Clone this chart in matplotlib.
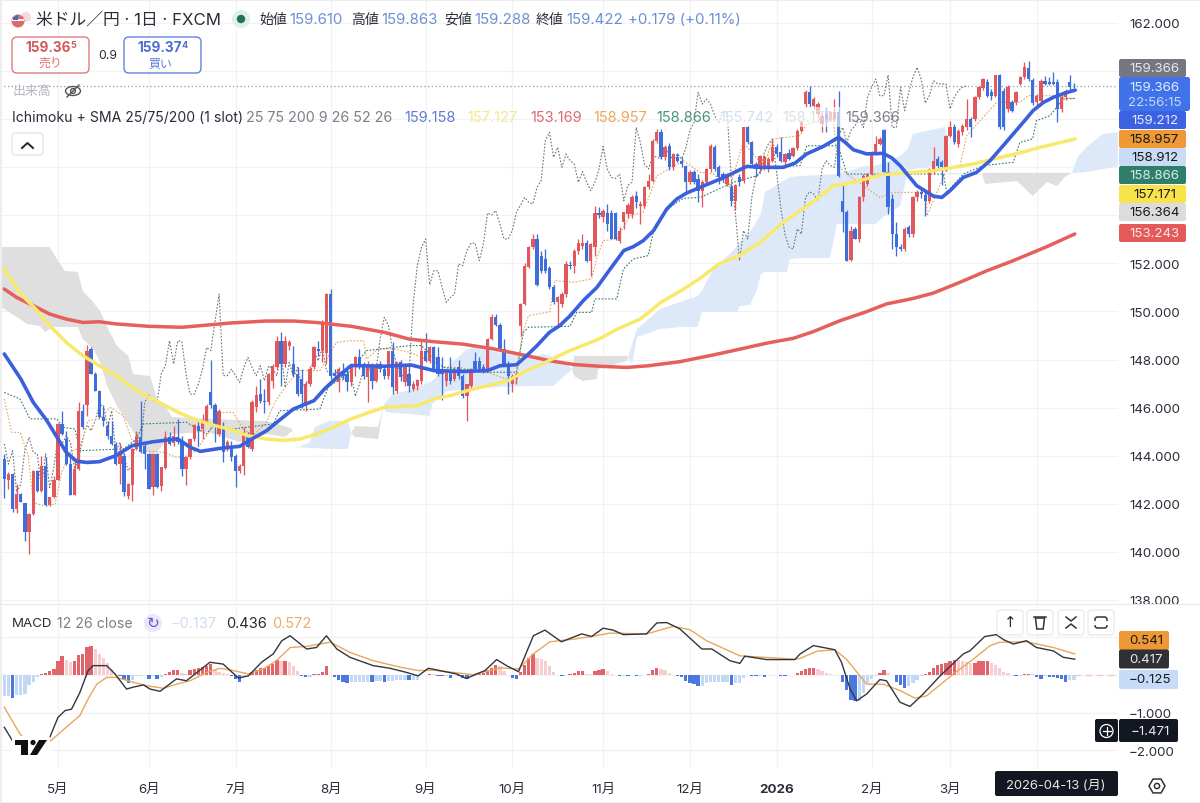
import matplotlib
matplotlib.use("Agg")
import matplotlib.pyplot as plt
from matplotlib.patches import Rectangle, FancyBboxPatch, Circle, Ellipse, Polygon, RegularPolygon

plt.rcParams['font.family'] = ['Inter', 'Noto Sans CJK JP', 'DejaVu Sans']

# ---------- daily candles ----------
opens = [143.86,143.0,143.24,141.78,142.41,142.03,140.84,141.58,143.35,142.55,
143.58,141.95,142.3,143.0,145.32,144.69,143.65,142.37,143.45,145.87,
146.12,148.44,147.4,146.7,145.59,145.25,144.83,144.49,143.65,144.0,
142.34,142.8,144.28,144.76,144.42,144.07,142.68,144.07,142.75,143.48,
144.76,144.52,144.76,144.56,143.45,143.93,144.69,145.25,145.1,145.4,
146.63,146.12,144.9,145.18,144.35,144.28,144.0,143.38,143.58,144.83,
144.28,146.01,146.56,146.29,146.22,147.12,147.67,148.78,147.81,148.57,
147.81,147.4,147.19,146.15,146.98,147.67,148.44,148.37,148.27,150.72,
147.45,147.05,147.53,147.4,
147.05,147.67,148.09,147.74,147.26,147.74,147.12,147.81,147.6,147.33,
148.37,146.7,147.88,147.05,147.4,146.77,146.91,147.12,148.34,147.95,
148.5,148.09,147.54,147.12,147.54,147.19,147.67,147.33,146.47,146.91,
147.95,147.95,147.67,147.6,148.85,149.75,149.43,148.44,147.81,146.98,
147.19,149.41,150.31,151.83,152.66,153.01,152.32,152.18,151.8,151.0,
150.38,150.31,150.72,151.94,151.9,152.53,152.73,152.84,152.11,152.66,
154.09,153.91,154.09,154.09,154.08,152.94,153.7,154.05,154.05,154.78,
154.37,154.37,155.16,155.44,157.1,157.45,156.41,156.89,155.99,156.41,
156.27,156.06,155.37,155.81,155.51,
155.02,155.37,155.92,156.82,155.99,155.71,155.3,155.19,154.6,155.57,
155.44,157.65,157.03,156.13,155.92,155.99,155.92,156.27,156.82,156.64,
156.2,156.6,156.47,156.78,157.52,158.62,159.11,158.55,158.21,157.79,
158.35,158.0,158.0,158.28,154.6,154.12,152.14,153.43,153.01,154.74,
155.3,155.71,156.6,156.96,157.56,155.8,154.67,153.22,152.67,152.6,
153.49,153.22,154.74,154.95,154.84,154.6,155.78,156.34,156.2,155.92,
157.31,157.65,156.96,157.45,157.65,158.0,158.0,158.9,159.27,159.53,
159.11,158.97,159.83,159.18,158.42,158.69,158.69,159.46,159.73,160.11,
159.63,158.69,158.76,159.59,159.55,159.53,159.53,158.42,158.9,159.55,159.39]
highs = [144.07,143.31,143.3,142.82,142.45,142.05,141.6,143.42,143.4,144.0,
143.93,142.3,143.17,145.35,145.87,145.04,144.07,143.86,146.22,146.15,
148.6,148.5,147.5,146.75,146.08,145.46,145.46,144.55,144.49,144.1,
142.85,144.3,145.04,146.26,144.6,144.1,144.1,144.1,143.55,145.04,
145.0,145.25,145.52,144.8,144.0,144.75,145.3,145.46,145.73,146.15,
147.99,146.2,145.95,145.4,144.65,144.62,144.05,143.65,145.18,145.0,
146.3,146.91,147.19,146.77,147.45,147.8,148.99,149.13,148.99,148.8,
148.57,147.7,147.6,147.1,147.75,148.57,148.78,149.65,150.75,150.92,
147.6,147.7,147.85,147.7,
147.8,148.15,148.44,147.9,147.95,147.85,147.85,147.95,147.7,148.36,
148.74,147.9,148.0,147.75,147.8,147.1,147.2,148.85,149.1,148.55,
148.57,148.5,148.09,147.6,148.09,147.7,148.0,147.4,147.0,147.65,
148.3,148.1,147.8,148.9,149.9,149.9,149.5,148.85,147.95,147.4,
147.47,150.35,152.0,152.7,153.22,153.22,152.5,152.59,151.9,151.1,
150.65,150.8,152.11,152.1,152.6,153.0,153.22,152.95,152.85,154.4,
154.33,154.25,154.47,154.2,154.15,153.5,154.15,154.5,154.85,155.02,
154.6,155.2,155.71,157.15,157.58,157.6,156.9,157.0,156.6,156.6,
156.4,156.1,155.9,155.9,155.7,
155.45,155.95,156.96,156.9,156.1,155.8,155.75,155.3,155.3,155.7,
157.7,157.75,157.1,156.2,156.5,156.5,156.4,157.17,156.96,157.24,
156.6,156.75,156.85,157.6,157.9,159.2,159.39,158.9,158.7,158.2,
158.5,158.35,158.83,159.18,155.3,154.2,153.56,153.5,154.8,155.7,
155.75,156.65,157.31,157.25,157.6,156.2,154.9,153.7,152.8,153.5,
153.6,154.8,155.05,155.1,155.0,155.95,156.82,156.45,156.3,157.35,
157.93,157.8,157.6,157.8,158.83,158.1,158.95,159.38,159.7,159.65,
159.25,159.85,159.88,159.3,159.4,158.8,159.15,159.8,160.36,160.43,
159.7,159.05,159.65,159.8,159.75,159.95,159.65,159.0,159.25,159.83,159.5]
lows = [142.23,142.62,141.64,141.62,142.08,140.47,139.91,141.55,142.5,142.5,
141.9,141.9,142.25,143.0,144.85,143.6,142.35,142.35,143.4,145.1,
145.66,147.38,146.68,145.55,145.25,144.69,144.45,143.6,142.82,142.34,
142.2,142.13,144.25,144.1,143.45,142.6,142.37,142.65,142.55,143.45,
144.45,144.4,144.5,143.17,142.78,143.85,144.6,144.42,144.69,145.3,
146.0,144.56,144.8,143.75,144.2,143.8,142.68,143.3,143.2,144.3,
144.2,145.8,146.2,145.76,146.1,146.8,147.6,146.91,147.7,148.4,
147.3,146.5,146.0,145.87,146.9,147.6,148.16,147.9,147.8,147.2,
147.1,146.63,147.2,146.7,
146.9,147.3,147.6,147.2,146.22,146.77,147.05,147.5,147.2,147.2,
146.57,146.6,147.1,146.9,146.66,146.7,146.75,147.0,147.9,147.85,
147.5,147.3,146.32,146.9,147.0,147.1,147.2,146.4,145.46,146.8,
147.55,147.5,147.45,147.5,148.8,149.4,148.4,147.75,146.57,146.64,
146.98,148.99,150.25,151.8,152.6,151.05,151.6,151.6,150.95,150.3,
149.41,150.2,150.6,151.75,151.6,152.4,152.6,152.05,151.49,152.3,
153.9,153.7,153.36,153.0,152.95,152.85,153.43,153.9,153.9,154.3,
153.63,154.3,155.1,155.4,157.0,156.35,156.3,155.9,155.9,156.2,
156.0,155.02,155.3,155.3,154.53,
154.33,155.3,155.8,155.85,155.3,155.4,155.2,154.4,154.2,155.2,
155.35,156.95,156.05,155.57,155.8,155.9,155.8,156.2,156.4,156.2,
156.1,156.3,156.4,156.7,157.45,158.5,158.5,158.4,158.1,157.45,
157.45,157.9,157.9,155.6,153.29,152.08,152.1,153.0,152.9,154.6,
155.2,155.6,156.5,156.9,155.7,154.05,152.6,152.32,152.5,152.5,
153.1,153.1,154.6,154.7,153.98,154.5,155.7,155.95,155.25,155.85,
157.25,156.95,156.82,157.35,157.55,157.24,157.9,158.85,159.2,158.9,
158.8,158.9,157.6,157.55,158.3,158.3,158.6,159.4,159.65,159.6,
158.6,158.6,158.7,159.4,159.4,159.4,157.86,158.3,158.8,159.2,159.3]
closes = [143.03,143.24,141.78,142.41,142.09,140.84,141.58,143.38,142.55,143.58,
141.95,142.3,143.0,145.32,144.9,143.65,142.37,143.45,145.87,145.18,
148.37,147.4,146.7,145.59,145.46,144.83,144.49,143.65,144.21,142.48,
142.82,144.28,144.76,144.14,144.07,142.62,144.07,142.68,143.52,144.76,
144.49,144.83,144.56,143.45,143.93,144.69,145.28,145.04,145.46,146.08,
146.11,145.18,145.87,144.14,144.56,143.93,143.38,143.58,144.97,144.35,
146.22,146.52,146.29,146.22,147.4,147.74,148.78,147.81,148.78,148.74,
147.4,146.56,146.56,146.98,147.6,148.5,148.37,149.54,150.72,147.33,
147.33,147.6,147.33,147.05,
147.67,148.09,147.67,147.33,147.74,147.12,147.74,147.6,147.33,148.34,
146.84,147.88,147.26,147.67,146.91,146.98,147.16,148.34,147.95,148.5,
147.54,147.4,147.4,147.54,147.12,147.6,147.33,146.47,146.98,147.6,
147.6,147.6,147.54,148.85,149.75,149.43,148.44,147.81,147.33,147.33,
147.4,150.31,151.9,152.66,153.01,151.11,151.69,151.69,151.0,150.38,
150.58,150.72,151.97,151.9,152.53,152.84,152.84,152.11,152.8,154.09,
154.01,154.19,153.63,153.01,153.01,153.36,154.12,154.42,154.74,154.53,
154.47,155.16,155.44,157.1,157.45,156.41,156.82,155.99,156.54,156.27,
156.13,155.37,155.81,155.37,155.02,
155.37,155.92,156.86,155.92,155.57,155.53,155.71,154.6,155.25,155.37,
157.65,157.03,156.13,155.92,156.47,156.41,156.34,156.82,156.55,156.27,
156.55,156.34,156.78,157.52,157.86,159.11,158.62,158.83,158.62,158.14,
157.86,158.28,158.31,155.64,154.12,152.11,153.36,153.01,154.74,155.64,
155.71,156.6,156.96,157.17,155.78,154.33,153.22,152.67,152.6,153.43,
153.22,154.74,154.98,154.88,154.6,155.92,156.27,156.06,155.99,157.31,
157.65,157.03,157.52,157.72,158.0,157.65,158.9,159.32,159.66,158.97,
158.97,159.83,157.65,157.65,159.32,158.35,159.11,159.73,160.15,159.66,
158.66,158.97,159.59,159.46,159.46,159.46,158.42,158.9,159.18,159.32,159.37]
last_price = 159.366

# ---------- moving averages (bar, value) ----------
sma25_bar = [0,4,7,10.3,13,15,17.5,20,23,27,31,36,42,45,47.5,52,57,60,63.5,67,70,75,77.5,81,84,92,98.5,104,111,117,120,124,126.5,129,132,134.5,137,140.2,143.5,146.7,150,152.3,154.7,157.2,160.4,162.8,165.2,168.5,174,179.8,183,188.6,191.5,194.3,198.3,202,203.6,205.6,208.8,212.8,214.9,216.9,220.9,225,227,229,232.2,235.4,238.7,241.5,244.3,246.7,249.1,251.6,254,256.8,259.3]
sma25_val = [148.23,147.19,146.22,145.46,144.7,144.14,143.77,143.72,143.75,144.0,144.42,144.58,144.7,144.35,144.18,144.3,144.39,144.7,145.04,145.53,145.94,146.29,146.77,147.33,147.75,147.72,147.77,147.54,147.5,147.54,147.74,147.78,148.16,148.58,149.13,149.41,149.82,150.45,151.0,151.76,152.53,152.69,152.94,153.36,154.26,154.67,154.92,155.16,155.55,156.03,155.99,155.99,156.17,156.55,156.86,157.24,157.03,156.72,156.55,156.57,156.38,156.06,155.23,154.79,154.74,155.02,155.57,155.78,156.27,156.82,157.38,157.86,158.35,158.69,158.9,159.08,159.2]
sma75_bar = [0,4,8,11,15,19,23,27,31,35,39,43,47,51,55,59,63.5,67.5,71.5,75.5,79.6,84,88,92,100,104,108,112,116,122,126.5,131,136,140,144,148.5,154,159,164.5,168.5,173,178,183,188.6,192.7,196.7,200.7,204,208,212.8,218.5,225,229.8,234.6,239.5,245,250.8,259.3]
sma75_val = [151.76,150.72,150.03,149.41,148.71,148.16,147.74,147.33,146.84,146.43,146.08,145.73,145.46,145.25,145.08,144.83,144.69,144.64,144.69,144.9,145.18,145.53,145.78,146.01,146.08,146.36,146.5,146.7,146.87,147.12,147.54,147.88,148.3,148.58,148.85,149.27,149.68,150.38,150.93,151.38,151.97,152.32,152.87,153.7,154.19,154.67,155.23,155.3,155.48,155.69,155.76,155.85,155.99,156.13,156.34,156.55,156.82,157.17]
sma200_bar = [0,3,7,11,15,19,23,27,31,35,43,49,55,63.5,70,75.5,84,92,98,104,111,118.5,126.5,132,138,144,150.7,156,163.6,171.7,178.1,184.6,191,195.9,202.3,208.8,213.6,220.1,224.9,231.4,237.9,244.3,252.4,259.2]
sma200_val = [150.93,150.58,150.24,149.89,149.68,149.54,149.57,149.48,149.43,149.38,149.34,149.43,149.52,149.6,149.6,149.54,149.38,149.13,148.85,148.74,148.64,148.44,148.16,147.95,147.79,147.72,147.67,147.74,147.91,148.19,148.43,148.68,148.88,149.16,149.61,149.99,150.31,150.54,150.76,151.21,151.69,152.11,152.69,153.22]

# ---------- ichimoku ----------
tenkan_bar = [0,1.8,3.8,5.8,7,9.4,12.3,13.9,15.9,18.3,20.3,23.1,25.6,28.8,30.8,33.6,38.5,41.7,44.9,47.3,50.6,52.6,55.4,57.8,60.2,63.5,65.5,68.3,71.1,76.4,77.6,80.4,83.6,87,87.7,90.6,94.2,98.2,107.1,110.3,116.8,124,125.3,126.9,132.1,133.3,137.8,142.2,143.4,145,148.3,151.5,154.7,158,164.4,168.5,171.7,175.7,178.9,183.8,186.2,192.7,194.3,200.7,201.9,204,212,215.3,223.3,223.4,228.2,231.4,233,237,240.3,245.9,247.9,254,259.2]
tenkan_val = [146.36,144.97,144.97,144.0,142.06,141.92,141.99,143.31,144.14,144.35,145.46,145.53,146.01,145.66,144.69,144.21,144.14,143.93,144.0,144.42,145.25,145.8,145.8,145.11,144.83,145.39,146.22,146.91,147.54,147.54,147.88,148.71,148.78,148.78,148.02,148.44,148.44,148.3,147.67,147.67,147.47,147.05,148.99,149.82,149.99,151.28,151.21,151.35,152.18,152.94,153.01,153.98,154.12,155.64,156.27,155.78,155.71,155.16,157.03,156.06,157.17,157.31,157.79,158.0,156.06,155.71,154.74,154.95,154.95,153.98,155.92,156.06,157.31,158.07,158.69,158.69,158.97,158.97,158.83]
kijun_bar = [0,3.8,6.2,12.7,14.3,17.1,18.3,28.8,32,33.6,44.1,49,50.6,55.4,65.1,66.7,76.4,78.4,83.6,87.7,98.2,101,106.3,116.8,124,125.7,126.9,137,138.6,142.2,143,148.3,149.9,152.3,155.9,157.5,161.2,164.4,168.5,176.5,182.2,183.8,192.7,194.3,201.9,204,227.4,228.2,232.2,237,244.3,245.9,249,249.9,253.2,256.4,259.2]
kijun_val = [146.63,146.36,145.53,145.53,145.18,145.11,144.21,144.28,144.69,145.32,145.39,144.9,145.25,145.11,145.32,145.87,145.94,146.84,147.47,148.37,148.58,148.58,147.67,147.47,147.47,149.13,149.34,149.38,149.96,149.96,150.52,150.52,151.76,152.18,152.32,153.56,154.33,154.7,154.74,155.37,155.64,155.99,156.06,156.89,156.89,155.71,155.71,154.95,155.71,156.06,156.2,157.03,157.17,157.93,158.14,158.83,158.86]
kumo_bar = [-2,3.8,5.5,8.6,9.9,11,12.3,14.7,17.8,19,21.5,23.2,24.9,27.3,30,31.2,35.3,37,39.4,40.6,49.1,57,63.6,67.9,69.7,70.9,74,75.2,78.4,83.2,84,84.9,90.5,91.7,92.4,94.1,98.2,103,103.6,107.2,111.5,113.5,119.3,127.8,130.4,132.9,137,137.5,138,140.1,143.5,143.8,150.8,152,153.2,158.8,163.6,167.9,168.9,171.6,176.4,177.4,178.1,180.6,182.3,183.2,184.2,188.6,189.5,190.2,192.7,199.9,201.6,208.6,210.8,213.7,216.9,218.8,220,227.8,228.5,236.2,236.7,237.5,245.2,249,252.5,254.9,256.8,258.5,260,262.4,266,270.1]
senkou_a = [150.31,149.68,149.48,149.39,149.14,149.27,149.35,149.35,149.35,148.85,148.44,147.9,146.9,146.07,145.32,144.99,144.07,144.15,144.69,144.9,144.99,144.57,144.9,144.78,145.03,144.32,144.57,145.19,145.44,145.44,144.94,144.78,144.69,146.03,146.23,146.57,146.73,147.06,147.11,147.69,148.35,148.52,148.31,148.1,148.23,148.1,147.69,147.6,147.31,147.11,147.19,147.6,147.94,148.64,149.27,150.1,150.39,150.64,150.85,151.76,152.51,152.72,152.89,153.3,153.76,154.05,154.96,155.42,155.5,155.59,155.63,155.69,155.71,156.05,156.05,156.21,156.46,156.75,157.38,157.67,155.76,155.71,155.74,155.3,155.42,154.8,155.38,155.21,155.59,155.76,156.46,156.88,157.38,157.46]
senkou_b = [152.68,152.68,152.68,152.68,152.68,152.68,152.3,151.68,151.64,150.85,150.39,150.02,149.35,148.56,148.15,147.4,147.31,146.36,145.94,145.61,145.53,145.48,145.44,145.23,145.11,144.36,144.32,144.32,144.28,144.28,144.94,145.23,145.19,146.03,145.82,145.78,145.73,145.65,146.15,146.69,146.73,146.77,146.86,146.9,146.9,146.9,147.52,147.6,148.15,148.15,148.15,148.15,148.15,147.81,148.94,149.27,149.35,149.35,149.98,149.98,149.98,149.98,150.22,150.27,150.93,151.55,151.64,151.64,151.64,152.18,152.22,152.22,153.63,153.63,153.63,154.05,154.38,155.84,155.92,156.05,155.71,155.67,155.74,155.76,155.76,155.76,155.76,155.76,155.76,155.76,155.76,155.8,155.92,156.05]

# ---------- MACD ----------
hist = [-.57,-.57,-.62,-.55,-.53,-.51,-.26,-.19,-.07,.03,.04,.09,.16,.37,.485,.40,.335,.35,.51,.55,
.73,.77,.69,.555,.44,.31,.16,.03,-.04,-.13,-.22,-.13,-.04,-.03,-.02,-.115,-.04,-.115,-.07,.03,
.07,.12,.12,.035,.03,.115,.15,.19,.2,.24,.29,.13,.07,.04,.03,-.04,-.115,-.18,-.07,-.03,
.07,.115,.18,.19,.23,.29,.40,.37,.37,.335,.22,.09,-.03,-.07,-.05,.01,.03,.07,.22,-.02,
-.07,-.13,-.18,-.22,-.18,-.18,-.18,-.18,-.18,-.19,-.16,-.16,-.18,-.16,
-.16,-.13,-.13,-.13,-.15,-.15,-.13,-.02,0,.03,.01,-.03,-.04,-.04,-.09,-.02,-.04,-.09,-.11,-.03,
.02,.03,.04,.13,.19,.25,.22,.09,-.02,-.09,-.115,.07,.26,.44,.55,.44,.42,.35,.22,.07,
0,-.03,-.01,.01,.035,.09,.11,.02,.01,.11,.12,.15,.11,.03,-.02,-.04,-.035,-.04,-.02,-.035,
-.035,-.01,.02,.115,.19,.16,.12,.04,-.01,-.03,-.07,-.16,-.22,-.25,-.31,-.31,-.22,-.19,-.19,-.19,
-.19,-.19,-.28,-.22,-.22,-.09,-.02,-.03,-.04,-.03,-.06,-.02,-.01,-.02,-.03,-.04,-.01,-.01,.04,
.09,.14,.18,.18,.16,.11,.04,.02,0,0,-.18,-.40,-.66,-.705,-.69,-.485,-.22,-.11,-.04,.04,
.12,.04,-.02,-.18,-.28,-.35,-.31,-.22,-.13,-.03,.03,.07,.19,.26,.29,.31,.35,.39,.38,.35,
.335,.31,.31,.35,.36,.36,.31,.26,.19,.07,.04,-.02,-.035,-.03,.01,.03,.01,-.07,-.115,-.04,
-.06,-.07,-.09,-.12,-.18,-.14,-.14]
macd_bar = [0,2,11,13,14.7,16.3,18.3,20.3,21.5,24.8,26.8,29.6,31.2,33.7,35.3,37.7,41.7,44.1,49.8,53,56.7,59.1,62.3,65.1,67.2,69.2,73.2,75.6,78,80.5,83.7,89.3,93.4,97.4,100.2,102.7,109.5,111.9,114.4,116.4,119.2,121.6,124.5,128.1,130.9,134.9,139.8,142.2,145,147.4,149.9,155.5,158,160.4,163.6,168.9,171.3,175.7,178.1,179.3,184.6,191.4,192.7,195.9,201.1,202.7,204.8,206.4,208.8,212,213.6,216.9,219.3,222.5,226.6,232.2,233.8,237.4,240.2,241.9,244.3,247.5,249.9,254,256.4,259.2]
macd_val = [-1.39,-1.75,-1.66,-1.13,-.95,-.91,-.47,.11,.24,.24,.02,-.38,-.33,-.27,-.38,-.44,-.11,-.16,.33,.28,-.09,-.03,.33,.55,.90,1.03,.68,.72,1.03,.68,.46,.24,.17,.06,-.03,.17,.02,-.10,.02,.11,.40,.24,.08,1.03,1.18,.87,1.08,1.01,1.23,1.18,1.06,1.08,1.37,1.38,1.21,.68,.68,.37,.30,.49,.40,.40,.55,.77,.66,.33,-.38,-.69,-.51,-.13,-.16,-.73,-.84,-.51,-.03,.55,.63,1.01,1.06,.93,.81,.90,.72,.63,.46,.41]
signal_bar = [0,3.8,7,11,15,18.3,20.3,22.4,24.8,27.2,31.2,34.5,38.5,41.7,45,49,52.2,55.4,59.1,62.7,65.9,69.2,73.2,78.9,83.7,89.3,95.8,100.2,103.9,110.3,113.5,120,124.5,128.1,132.1,137.8,142.2,146.6,155.5,162,166,170,178.1,191.4,192.7,196.7,201.1,203.9,208.8,212.8,216.9,220.5,223.3,229.8,234.6,238.7,241.1,247.5,254,259.2]
signal_val = [-.86,-1.57,-1.92,-1.77,-1.39,-1.08,-.64,-.25,-.07,-.07,-.2,-.29,-.36,-.25,-.16,.06,.17,.11,.02,.15,.37,.72,.75,.86,.59,.37,.2,.11,.12,.04,0,.18,.15,.55,.87,.94,1.01,1.10,1.08,1.28,1.19,.90,.5,.41,.43,.62,.66,.41,-.25,-.25,-.42,-.62,-.56,.02,.41,.77,.86,.87,.72,.55]

# ---------- axis labels ----------
price_ticks = [138,140,142,144,146,148,150,152,154,156,158,160,162]
price_tick_labels = ['138.000','140.000','142.000','144.000','146.000','148.000','150.000','152.000','','','','','162.000']
macd_ticks = [1,0,-1,-2]
macd_tick_labels = ['','','\u22121.000','\u22122.000']
month_bars = [13,35,56,79,102,123,145,166,187,210,229,250]
month_labels = ['5月','6月','7月','8月','9月','10月','11月','12月','2026','2月','3月','']

RED, BLUE = '#e0585c', '#3f6edb'
W, H = 1200, 804
bar_x0, bar_dx = 4.3, 4.13
xlim = ((0 - bar_x0) / bar_dx, (1118 - bar_x0) / bar_dx)
GRID = '#f2f2f4'
TXT = '#2a2e39'

fig = plt.figure(figsize=(12, 8.04), dpi=100, facecolor='white')
ax = fig.add_axes([0, 200 / H, 1118 / W, 604 / H])
am = fig.add_axes([0, (H - 770) / H, 1118 / W, 165 / H])
bars = list(range(len(closes)))

for a in (ax, am):
    a.set_xlim(*xlim)
    a.set_xticks(month_bars)
    a.grid(True, color=GRID, lw=0.9)
    a.set_axisbelow(True)
    for s in a.spines.values():
        s.set_visible(False)
    a.yaxis.tick_right()
    a.tick_params(axis='both', length=0, colors=TXT, labelsize=9.6, pad=8)

# price pane
ax.set_ylim(138 + (601 - 604) / 24.05, 138 + 601 / 24.05)
ax.set_yticks(price_ticks)
ax.set_yticklabels(price_tick_labels)
ax.tick_params(axis='x', labelbottom=False)
ax.fill_between(kumo_bar, senkou_a, senkou_b, where=[p >= q for p, q in zip(senkou_a, senkou_b)],
                interpolate=True, color='#dde9f9', lw=0, zorder=1)
ax.fill_between(kumo_bar, senkou_a, senkou_b, where=[p <= q for p, q in zip(senkou_a, senkou_b)],
                interpolate=True, color='#dfdfe0', lw=0, zorder=1)
ax.axhline(last_price, color='#7d9cc0', lw=0.9, ls=(0, (1, 2)), zorder=2)
ax.plot(bars[:-26], closes[26:], color='#6f7277', lw=0.8, ls=(0, (1.5, 1.5)), zorder=2)
ax.plot(tenkan_bar, tenkan_val, color='#e6a45c', lw=0.8, ls=(0, (1.5, 1.5)), zorder=2)
ax.plot(kijun_bar, kijun_val, color='#2f7d68', lw=0.8, ls=(0, (1.5, 1.5)), zorder=2)
colors = [RED if c >= o else BLUE for o, c in zip(opens, closes)]
ax.vlines(bars, lows, highs, colors=colors, lw=0.95, zorder=3)
ax.bar(bars, [abs(c - o) for o, c in zip(opens, closes)], bottom=[min(o, c) for o, c in zip(opens, closes)],
       width=0.8, color=colors, lw=0, zorder=3)
ax.plot(sma200_bar, sma200_val, color='#e55f5c', lw=2.5, zorder=4, solid_capstyle='round', solid_joinstyle='round')
ax.plot(sma75_bar, sma75_val, color='#f8e96c', lw=2.5, zorder=4, solid_capstyle='round', solid_joinstyle='round')
ax.plot(sma25_bar, sma25_val, color='#3a60dc', lw=2.6, zorder=5, solid_capstyle='round', solid_joinstyle='round')

# MACD pane
am.set_ylim((675.7 - 770) / 37.8, (675.7 - 605) / 37.8)
am.set_yticks(macd_ticks)
am.set_yticklabels(macd_tick_labels)
am.set_xticklabels(month_labels)
for lbl in am.get_xticklabels():
    if lbl.get_text() == '2026':
        lbl.set_fontweight('bold')
am.tick_params(axis='x', pad=10)
hcol = []
for i, h in enumerate(hist):
    prev = hist[i - 1] if i else h
    if h >= 0:
        hcol.append('#e0646a' if h >= prev else '#f6cdd0')
    else:
        hcol.append('#4a78dc' if h < prev else '#c3d8f7')
am.bar(bars, hist, width=0.8, color=hcol, lw=0, zorder=2)
am.plot([259, xlim[1]], [0, 0], color='#eec5c5', lw=0.9, ls=(0, (5, 4)), zorder=2)
am.plot(signal_bar, signal_val, color='#e9a857', lw=1.0, zorder=3, solid_joinstyle='round')
am.plot(macd_bar, macd_val, color='#33363f', lw=1.0, zorder=4, solid_joinstyle='round')

# overlay in pixel units for the interface furniture
ov = fig.add_axes([0, 0, 1, 1], zorder=10)
ov.set_xlim(0, W)
ov.set_ylim(H, 0)
ov.axis('off')
ov.patch.set_alpha(0)

def T(x, y, s, size=9.4, color=TXT, ha='left', **kw):
    kw.setdefault('zorder', 6)
    ov.text(x, y, s, fontsize=size, color=color, ha=ha, va='center', **kw)

def round_box(x0, y0, x1, y1, fc, ec='none', r=2.5, lw=1, z=2, alpha=1):
    ov.add_patch(FancyBboxPatch((x0 + r, y0 + r), x1 - x0 - 2 * r, y1 - y0 - 2 * r,
                                boxstyle='round,pad=%g,rounding_size=%g' % (r, r),
                                fc=fc, ec=ec, lw=lw, zorder=z, alpha=alpha))

# pane border and separators
ov.plot([0, W], [0.5, 0.5], color='#eeeeee', lw=1.5)
ov.plot([0.5, 0.5], [0, H], color='#eeeeee', lw=1.5)
ov.plot([0, W], [H - 0.5, H - 0.5], color='#eeeeee', lw=1.5)
ov.plot([0, W], [605, 605], color='#e9e9ec', lw=0.8)

# header
ov.add_patch(Circle((26, 18), 5, fc='#f7d9d9', ec='none'))
ov.add_patch(Circle((18, 22), 6.5, fc='#dd6a6a', ec='none'))
ov.add_patch(Rectangle((12, 20), 12, 2, fc='white', ec='none'))
ov.add_patch(Polygon([[13, 19], [18, 15.5], [18, 21], [13, 21]], fc='#4a68b8', ec='none'))
T(36, 20, '米ドル／円 · 1日 · FXCM', size=12.1)
ov.add_patch(Circle((241, 20), 9, fc='#dff0ea', ec='none'))
ov.add_patch(Circle((241, 20), 4.2, fc='#23705c', ec='none'))
VAL = '#6c8fd2'
for x, s, xv, v in [(259, '始値', 289, '159.610'), (351, '高値', 381, '159.863'),
                    (444, '安値', 474, '159.288'), (536, '終値', 566, '159.422')]:
    T(x, 20, s, size=10)
    T(xv, 20, v, size=10.8, color=VAL)
T(628, 20, '+0.179 (+0.11%)', size=10.8, color=VAL)

# buy / sell
round_box(12, 38, 89, 74, 'white', '#dd7c80', r=5)
T(25, 48, '159.36', size=9.8, color='#d2595e', fontweight='bold')
T(70, 46, '5', size=6.5, color='#d2595e', fontweight='bold')
T(50, 64, '売り', size=8.6, color='#dd6f73', ha='center')
T(98, 56, '0.9', size=8.8)
round_box(124, 38, 201, 74, 'white', '#5c85e0', r=5)
T(137, 48, '159.37', size=9.8, color='#4f6fd0', fontweight='bold')
T(182, 46, '4', size=6.5, color='#4f6fd0', fontweight='bold')
T(160, 64, '買い', size=8.6, color='#5b7fd8', ha='center')
T(12, 92, '出来高', size=9.3, color='#b4b6bc')
ov.add_patch(Ellipse((73, 92), 15, 9, fc='none', ec='#555', lw=1))
ov.add_patch(Circle((73, 92), 2.4, fc='none', ec='#555', lw=1))
ov.plot([67, 79], [98, 86], color='#555', lw=1)

# indicator legend
round_box(716, 108, 848, 128, 'white', r=1, z=1, alpha=0.62)
T(12, 118, 'Ichimoku + SMA 25/75/200 (1 slot)', size=10.1)
T(246, 118, '25 75 200 9 26 52 26', size=10.3, color='#7c7f88')
for x, s, c in [(404, '159.158', '#5f7cd6'), (467, '157.127', '#f5e889'), (530, '153.169', '#dd6a6e'),
                (593, '158.957', '#eba85e'), (656, '158.866', '#4c9480'), (719, '155.742', '#d3e0f3'),
                (782, '158.173', '#dfe0e4'), (845, '159.366', '#7d8087')]:
    T(x, 118, s, size=10.5, color=c)
round_box(12, 134, 43, 156, 'white', '#e6e6ea', r=3)
ov.plot([22, 27.5, 33], [149, 144, 149], color='#222', lw=1.4, zorder=5)

# MACD legend
T(12, 624, 'MACD', size=9.6)
T(57, 624, '12 26 close', size=10.2, color='#7c7f88')
ov.add_patch(Circle((153, 624), 9, fc='#ece6fa', ec='none'))
T(153, 623.5, '↻', size=11, color='#6a4fd0', ha='center', family='DejaVu Sans')
T(171, 624, '\u22120.137', size=10.5, color='#cfdcf2')
T(226, 624, '0.436', size=10.5)
T(272, 624, '0.572', size=10.5, color='#eaae64')

# pane buttons
for cx in (1010, 1040, 1071, 1101):
    round_box(cx - 13, 611, cx + 13, 636, 'white', '#ebebee', r=3)
T(1010, 623, '↑', size=11, ha='center', family='DejaVu Sans')
ov.add_patch(Polygon([[1035.5, 619], [1044.5, 619], [1043.2, 630], [1036.8, 630]], fc='none', ec='#333', lw=1.1, zorder=5))
ov.plot([1034, 1046], [618, 618], color='#333', lw=1.1, zorder=5)
ov.plot([1066, 1071, 1076], [618, 622, 618], color='#333', lw=1.1, zorder=5)
ov.plot([1066, 1071, 1076], [629, 625, 629], color='#333', lw=1.1, zorder=5)
round_box(1095, 618, 1107, 629, 'none', '#333', r=2.5, lw=1.1, z=5)
ov.plot([1093, 1109], [623.5, 623.5], color='white', lw=3, zorder=5)

# TradingView mark
round_box(12, 737, 50, 760, 'white', r=2, z=1)
ov.add_patch(Polygon([[15, 741], [28, 741], [28, 756], [21, 756], [21, 746], [15, 746]], fc='#111', ec='none', zorder=3))
ov.add_patch(Circle((33, 743.5), 2.6, fc='#111', ec='none', zorder=3))
ov.add_patch(Polygon([[39, 741], [47, 741], [37, 756], [30, 756]], fc='#111', ec='none', zorder=3))

# price-scale tags
for y, s, fc, tc in [(69, '159.366', '#74777f', '#e8e8ea'), (121, '159.212', '#3b62e3', '#e4eafc'),
                     (140, '158.957', '#ee9836', '#1a1a1a'), (158, '158.912', '#c9dcf6', '#1a1a1a'),
                     (176, '158.866', '#2f7e6b', '#d7ece6'), (195, '157.171', '#f9e34b', '#1a1a1a'),
                     (213, '156.364', '#dcdcde', '#1a1a1a'), (234, '153.243', '#e35a58', '#fbe9e8')]:
    round_box(1119, y - 9, 1186, y + 9, fc, r=2)
    T(1154.5, y, s, size=9.6, color=tc, ha='center')
round_box(1119, 78, 1190, 112, '#4072ea', r=2.5, z=3)
T(1154.5, 88, '159.366', size=9.6, color='#e4ecfc', ha='center')
T(1154.5, 103, '22:56:15', size=9.6, color='#c5d6f8', ha='center')
for y, s, fc, tc in [(641.5, '0.541', '#ee9836', '#1a1a1a'), (660, '0.417', '#2f3036', '#e8e8ea')]:
    round_box(1119, y - 9.5, 1169, y + 9.5, fc, r=2)
    T(1146, y, s, size=9.6, color=tc, ha='center')
round_box(1119, 671, 1178, 690, '#c6dbf8', r=1.5)
T(1150, 680.5, '\u22120.125', size=9.6, color='#1a1a1a', ha='center')
round_box(1095, 720, 1118, 743, '#131722', r=2)
ov.add_patch(Circle((1106.5, 732), 6.5, fc='none', ec='white', lw=0.9, zorder=5))
ov.plot([1102.5, 1110.5], [732, 732], color='white', lw=0.9, zorder=5)
ov.plot([1106.5, 1106.5], [728, 736], color='white', lw=0.9, zorder=5)
round_box(1119, 720, 1178, 743, '#131722', r=2)
T(1150, 732, '\u22121.471', size=9.6, color='#e8e8ea', ha='center')

# date tag and settings
round_box(995, 772, 1118, 797, '#131722', r=2)
T(1056, 786, '2026-04-13 (月)', size=9.4, color='#e8e8ea', ha='center')
ov.add_patch(RegularPolygon((1157, 787), 6, radius=8, orientation=0.52, fc='none', ec='#333', lw=1.1))
ov.add_patch(Circle((1157, 787), 2.6, fc='none', ec='#333', lw=1.1))

fig.savefig('out.png', dpi=100)
